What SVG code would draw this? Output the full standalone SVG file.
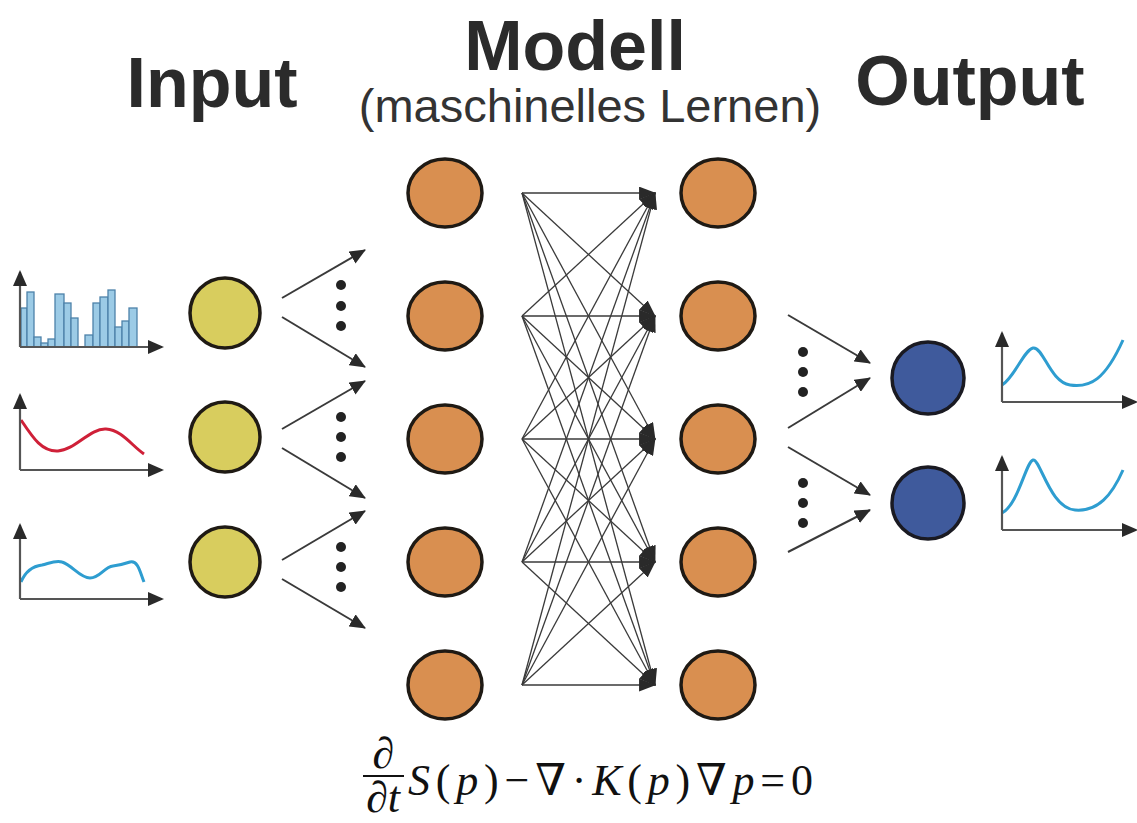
<svg xmlns="http://www.w3.org/2000/svg" width="1137" height="823" viewBox="0 0 1137 823">
<style>
.title{font-family:"Liberation Sans",Arial,sans-serif;font-weight:bold;font-size:70px;fill:#2b2b2b;text-anchor:middle}
.sub{font-family:"Liberation Sans",Arial,sans-serif;font-size:47px;fill:#333;text-anchor:middle}
.ax{stroke:#555;stroke-width:2.2;fill:none;marker-end:url(#axh)}
.arr{stroke:#3a3a3a;stroke-width:2;fill:none;marker-end:url(#ah)}
.mesh{stroke:#3a3a3a;stroke-width:1.3;fill:none;marker-end:url(#mh)}
.yel{fill:#d8cd5e;stroke:#1f1a14;stroke-width:3.5}
.ora{fill:#d98f50;stroke:#1f1a14;stroke-width:3.5}
.blu{fill:#3f5a9c;stroke:#1a1a22;stroke-width:3.5}
.dot{fill:#222}
.bar{fill:#9ccbe6;stroke:#4d82aa;stroke-width:1.3}
.f{font-family:"Liberation Serif","DejaVu Serif",serif;font-size:44px;fill:#111}
</style>
<defs>
<marker id="axh" viewBox="0 0 16 14" refX="14" refY="7" markerWidth="16" markerHeight="14" markerUnits="userSpaceOnUse" orient="auto"><path d="M0,0 L16,7 L0,14 z" fill="#2a2a2a"/></marker>
<marker id="ah" viewBox="0 0 16 14" refX="15" refY="7" markerWidth="16" markerHeight="14" markerUnits="userSpaceOnUse" orient="auto"><path d="M0,0 L16,7 L0,14 z" fill="#2a2a2a"/></marker>
<marker id="mh" viewBox="0 0 16 12" refX="15" refY="6" markerWidth="17" markerHeight="13" markerUnits="userSpaceOnUse" orient="auto"><path d="M0,0 L16,6 L0,12 z" fill="#2a2a2a"/></marker>
</defs>
<rect width="1137" height="823" fill="#fff"/>

<g id="titles">
<text class="title" x="212" y="107">Input</text>
<text class="title" x="575" y="70">Modell</text>
<text class="sub" x="590" y="122">(maschinelles Lernen)</text>
<text class="title" x="970" y="105">Output</text>
</g>

<g id="input-chart-1">
<rect class="bar" x="21" y="308" width="6" height="39"/>
<rect class="bar" x="27" y="292" width="7" height="55"/>
<rect class="bar" x="34" y="337" width="7" height="10"/>
<rect class="bar" x="41" y="343" width="7" height="4"/>
<rect class="bar" x="48" y="339" width="7" height="8"/>
<rect class="bar" x="55" y="294" width="9" height="53"/>
<rect class="bar" x="64" y="303" width="7" height="44"/>
<rect class="bar" x="71" y="318" width="7" height="29"/>
<rect class="bar" x="85" y="335" width="8" height="12"/>
<rect class="bar" x="93" y="303" width="7" height="44"/>
<rect class="bar" x="100" y="297" width="8" height="50"/>
<rect class="bar" x="108" y="290" width="7" height="57"/>
<rect class="bar" x="115" y="327" width="7" height="20"/>
<rect class="bar" x="122" y="321" width="7" height="26"/>
<rect class="bar" x="129" y="308" width="8" height="39"/>
<path class="ax" d="M20,347 L20,272"/>
<path class="ax" d="M20,347 L162,347"/>
</g>

<g id="input-chart-2">
<path d="M21,420 C33,438 42,452 58,451 C75,450 90,428 106,429 C122,430 132,446 144,454" fill="none" stroke="#cf2038" stroke-width="3"/>
<path class="ax" d="M20,470 L20,395"/>
<path class="ax" d="M20,470 L162,470"/>
</g>

<g id="input-chart-3">
<path d="M21,582 C26,570 34,566 42,565 C50,563 56,560 62,562 C72,565 80,578 90,578 C100,578 104,567 113,566 C121,565 124,564 130,562 C138,560 140,572 144,582" fill="none" stroke="#2e9dd0" stroke-width="3"/>
<path class="ax" d="M20,599 L20,525"/>
<path class="ax" d="M20,599 L162,599"/>
</g>

<g id="input-node-1"><circle class="yel" cx="225" cy="313" r="35"/></g>
<g id="input-node-2"><circle class="yel" cx="225" cy="437" r="35"/></g>
<g id="input-node-3"><circle class="yel" cx="225" cy="562" r="35"/></g>

<g id="hidden-1-1"><ellipse class="ora" cx="445" cy="193" rx="37" ry="34"/></g>
<g id="hidden-1-2"><ellipse class="ora" cx="445" cy="316" rx="37" ry="34"/></g>
<g id="hidden-1-3"><ellipse class="ora" cx="445" cy="439" rx="37" ry="34"/></g>
<g id="hidden-1-4"><ellipse class="ora" cx="445" cy="562" rx="37" ry="34"/></g>
<g id="hidden-1-5"><ellipse class="ora" cx="445" cy="685" rx="37" ry="34"/></g>

<g id="hidden-2-1"><ellipse class="ora" cx="718" cy="193" rx="37" ry="34"/></g>
<g id="hidden-2-2"><ellipse class="ora" cx="718" cy="316" rx="37" ry="34"/></g>
<g id="hidden-2-3"><ellipse class="ora" cx="718" cy="439" rx="37" ry="34"/></g>
<g id="hidden-2-4"><ellipse class="ora" cx="718" cy="562" rx="37" ry="34"/></g>
<g id="hidden-2-5"><ellipse class="ora" cx="718" cy="685" rx="37" ry="34"/></g>

<g id="output-node-1"><circle class="blu" cx="928" cy="378" r="36"/></g>
<g id="output-node-2"><circle class="blu" cx="928" cy="503" r="36"/></g>

<g id="output-chart-1">
<path d="M1002,385 C1014,378 1024,350 1033,348 C1043,346 1050,382 1070,385 C1090,388 1105,380 1123,340" fill="none" stroke="#2e9dd0" stroke-width="3"/>
<path class="ax" d="M1002,402 L1002,333"/>
<path class="ax" d="M1002,402 L1136,402"/>
</g>

<g id="output-chart-2">
<path d="M1002,513 C1018,505 1026,462 1033,460 C1040,458 1050,508 1075,510 C1098,512 1112,495 1123,470" fill="none" stroke="#2e9dd0" stroke-width="3"/>
<path class="ax" d="M1002,530 L1002,457"/>
<path class="ax" d="M1002,530 L1136,530"/>
</g>

<g id="connectors">
<path class="arr" d="M282,298 L365,250"/>
<path class="arr" d="M282,317 L365,367"/>
<path class="arr" d="M282,429 L365,381"/>
<path class="arr" d="M282,448 L365,498"/>
<path class="arr" d="M282,560 L365,511"/>
<path class="arr" d="M282,579 L365,628"/>
<path class="arr" d="M788,315 L870,363"/>
<path class="arr" d="M788,428 L870,378"/>
<path class="arr" d="M788,447 L870,495"/>
<path class="arr" d="M788,552 L870,510"/>
<g>
<path class="mesh" d="M522,193 L655,193"/><path class="mesh" d="M522,193 L655,316"/><path class="mesh" d="M522,193 L655,439"/><path class="mesh" d="M522,193 L655,562"/><path class="mesh" d="M522,193 L655,685"/>
<path class="mesh" d="M522,316 L655,193"/><path class="mesh" d="M522,316 L655,316"/><path class="mesh" d="M522,316 L655,439"/><path class="mesh" d="M522,316 L655,562"/><path class="mesh" d="M522,316 L655,685"/>
<path class="mesh" d="M522,439 L655,193"/><path class="mesh" d="M522,439 L655,316"/><path class="mesh" d="M522,439 L655,439"/><path class="mesh" d="M522,439 L655,562"/><path class="mesh" d="M522,439 L655,685"/>
<path class="mesh" d="M522,562 L655,193"/><path class="mesh" d="M522,562 L655,316"/><path class="mesh" d="M522,562 L655,439"/><path class="mesh" d="M522,562 L655,562"/><path class="mesh" d="M522,562 L655,685"/>
<path class="mesh" d="M522,685 L655,193"/><path class="mesh" d="M522,685 L655,316"/><path class="mesh" d="M522,685 L655,439"/><path class="mesh" d="M522,685 L655,562"/><path class="mesh" d="M522,685 L655,685"/>
</g>
</g>

<g id="dots">
<circle class="dot" cx="341" cy="285" r="5"/><circle class="dot" cx="341" cy="306" r="5"/><circle class="dot" cx="341" cy="326" r="5"/>
<circle class="dot" cx="341" cy="417" r="5"/><circle class="dot" cx="341" cy="437" r="5"/><circle class="dot" cx="341" cy="457" r="5"/>
<circle class="dot" cx="341" cy="547" r="5"/><circle class="dot" cx="341" cy="567" r="5"/><circle class="dot" cx="341" cy="587" r="5"/>
<circle class="dot" cx="803" cy="352" r="5"/><circle class="dot" cx="803" cy="372" r="5"/><circle class="dot" cx="803" cy="392" r="5"/>
<circle class="dot" cx="803" cy="483" r="5"/><circle class="dot" cx="803" cy="503" r="5"/><circle class="dot" cx="803" cy="523" r="5"/>
</g>

<g id="formula">
<text class="f" x="383" y="768" text-anchor="middle">∂</text>
<line x1="363" y1="776" x2="404" y2="776" stroke="#111" stroke-width="2"/>
<text class="f" x="383" y="812" text-anchor="middle" font-size="40">∂<tspan font-style="italic">t</tspan></text>
<text class="f" x="408" y="795" textLength="405" lengthAdjust="spacing"><tspan font-style="italic">S</tspan>(<tspan font-style="italic">p</tspan>)−∇·<tspan font-style="italic">K</tspan>(<tspan font-style="italic">p</tspan>)∇<tspan font-style="italic">p</tspan>=0</text>
</g>
</svg>
